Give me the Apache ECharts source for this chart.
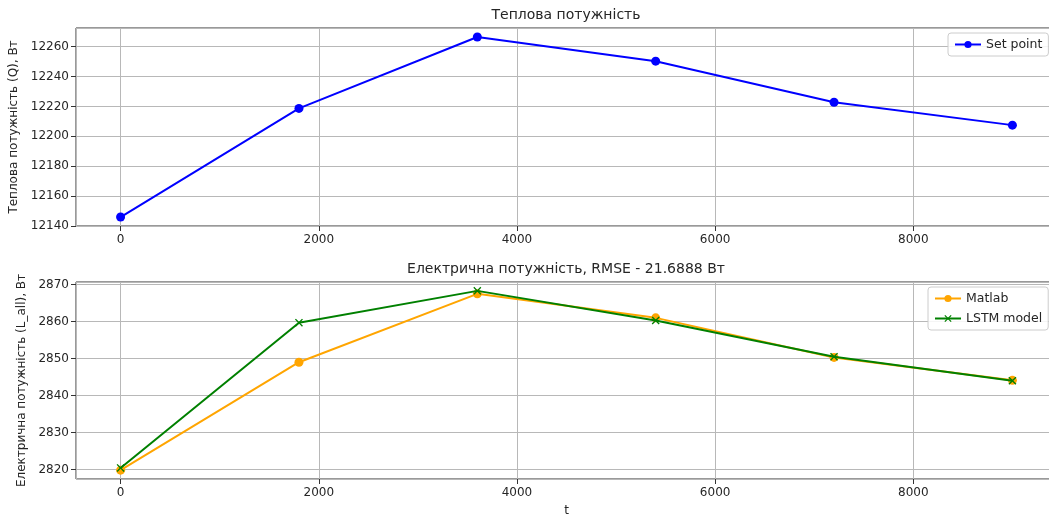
<!DOCTYPE html>
<html>
<head>
<meta charset="utf-8">
<script src="https://cdn.jsdelivr.net/npm/echarts@6/dist/echarts.min.js"></script>
<style>
html,body{margin:0;padding:0;background:#fff;}
#chart{width:1049px;height:515px;}
</style>
</head>
<body>
<div id="chart"></div>
<script>
// ---- data ----
const tValues = [0, 1800, 3600, 5400, 7200, 9000];
const heatSetPoint = [12146, 12218.7, 12266.5, 12250.3, 12222.8, 12207.5];
const elecMatlab = [2819.8, 2849.0, 2867.5, 2861.0, 2850.3, 2844.1];
const elecLSTM = [2820.4, 2859.7, 2868.3, 2860.3, 2850.5, 2844.0];

const titleTop = 'Теплова потужність';
const titleBottom = 'Електрична потужність, RMSE - 21.6888 Вт';
const yNameTop = 'Теплова потужність (Q), Вт';
const yNameBottom = 'Електрична потужність (L_all), Вт';
const xName = 't';
const seriesNames = ['Set point', 'Matlab', 'LSTM model'];

const FONT = 'DejaVu Sans';
const TXT = '#262626';
const GRIDC = '#b8b8b8';

function pairs(xs, ys){ return xs.map((x,i)=>[x, ys[i]]); }
const plain = v => String(Math.round(v*1000)/1000);

const xMin = -450, xMax = 9450;
const xSymbol = 'path://M0,1.2 L1.2,0 L5,3.8 L8.8,0 L10,1.2 L6.2,5 L10,8.8 L8.8,10 L5,6.2 L1.2,10 L0,8.8 L3.8,5 Z';

function xAxisCfg(idx, withName){
  return {
    type:'value', gridIndex: idx, min: xMin, max: xMax, splitNumber: 5,
    axisLine:{show:false, onZero:false},
    axisTick:{show:true, length:5, lineStyle:{color:'#333'}},
    axisLabel:{color:TXT, fontFamily:FONT, fontSize:12, margin:8, showMinLabel:false, showMaxLabel:false, formatter:plain},
    splitLine:{show:true, lineStyle:{color:GRIDC, width:1}},
    name: withName ? xName : '', nameLocation:'middle', nameGap:26,
    nameTextStyle:{color:TXT, fontFamily:FONT, fontSize:12}
  };
}

const option = {
  animation:false,
  backgroundColor:'#fff',
  textStyle:{fontFamily:FONT},
  graphic:[
    {type:'text', x:566, y:8, style:{text:titleTop, font:'14px "DejaVu Sans"', fill:TXT, textAlign:'center'}, z:10, id:'t1'},
    {type:'text', x:566, y:262, style:{text:titleBottom, font:'14px "DejaVu Sans"', fill:TXT, textAlign:'center'}, z:10, id:'t2'}
  ],
  grid:[
    {left:76, top:28, height:198, width:981, outerBoundsMode:'none', containLabel:false, show:true, borderColor:'#333', borderWidth:1, backgroundColor:'transparent'},
    {left:76, top:282, height:197, width:981, outerBoundsMode:'none', containLabel:false, show:true, borderColor:'#333', borderWidth:1, backgroundColor:'transparent'}
  ],
  xAxis:[ xAxisCfg(0,false), xAxisCfg(1,true) ],
  yAxis:[
    {type:'value', gridIndex:0, min:12140, max:12272.5, interval:20,
     axisLine:{show:false, onZero:false}, axisTick:{show:true,length:5,lineStyle:{color:'#333'}},
     axisLabel:{color:TXT, fontFamily:FONT, fontSize:12, margin:7, showMaxLabel:false, formatter:plain},
     splitLine:{show:true, lineStyle:{color:GRIDC, width:1}},
     name:yNameTop, nameLocation:'middle', nameRotate:90, nameGap:49,
     nameTextStyle:{color:TXT, fontFamily:FONT, fontSize:12}},
    {type:'value', gridIndex:1, min:2817.4, max:2870.7, splitNumber:5,
     axisLine:{show:false, onZero:false}, axisTick:{show:true,length:5,lineStyle:{color:'#333'}},
     axisLabel:{color:TXT, fontFamily:FONT, fontSize:12, margin:7, showMinLabel:false, showMaxLabel:false, formatter:plain},
     splitLine:{show:true, lineStyle:{color:GRIDC, width:1}},
     name:yNameBottom, nameLocation:'middle', nameRotate:90, nameGap:40,
     nameTextStyle:{color:TXT, fontFamily:FONT, fontSize:12}}
  ],
  legend:[
    {data:[seriesNames[0]], left:948, top:33, orient:'vertical',
     backgroundColor:'rgba(255,255,255,0.85)', borderColor:'#ccc', borderWidth:1, borderRadius:3,
     padding:[5,6,5,6], itemWidth:26, itemHeight:9, itemGap:4,
     textStyle:{color:TXT, fontFamily:FONT, fontSize:12.5}},
    {data:[seriesNames[1], seriesNames[2]], left:928, top:287, orient:'vertical',
     backgroundColor:'rgba(255,255,255,0.85)', borderColor:'#ccc', borderWidth:1, borderRadius:3,
     padding:[5,6,5,6], itemWidth:26, itemHeight:9, itemGap:7,
     textStyle:{color:TXT, fontFamily:FONT, fontSize:12.5}}
  ],
  series:[
    {name:seriesNames[0], type:'line', xAxisIndex:0, yAxisIndex:0, data:pairs(tValues, heatSetPoint),
     symbol:'circle', symbolSize:9, color:'#0000ff', lineStyle:{width:2, color:'#0000ff'}, itemStyle:{color:'#0000ff'}},
    {name:seriesNames[1], type:'line', xAxisIndex:1, yAxisIndex:1, data:pairs(tValues, elecMatlab),
     symbol:'circle', symbolSize:9, color:'#ffa500', lineStyle:{width:2, color:'#ffa500'}, itemStyle:{color:'#ffa500'}, z:2},
    {name:seriesNames[2], type:'line', xAxisIndex:1, yAxisIndex:1, data:pairs(tValues, elecLSTM),
     symbol:xSymbol, symbolSize:8, color:'#008000', lineStyle:{width:2, color:'#008000'}, itemStyle:{color:'#008000'}, z:3}
  ]
};

const chart = echarts.init(document.getElementById('chart'));
chart.setOption(option);
</script>
</body>
</html>
